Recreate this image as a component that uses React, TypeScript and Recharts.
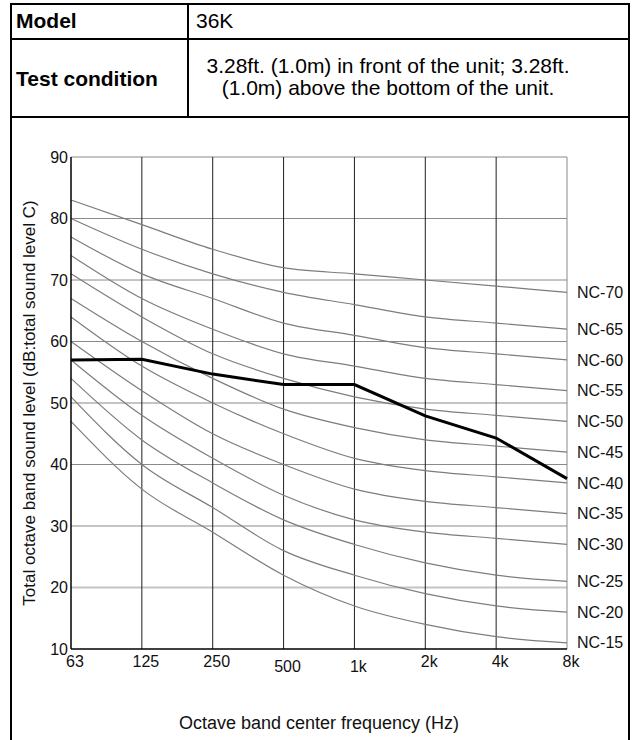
import { LineChart, Line, XAxis, YAxis, ReferenceLine, LabelList } from 'recharts';

const FREQS = ['63', '125', '250', '500', '1k', '2k', '4k', '8k'];
const Y_TICKS = [10, 20, 30, 40, 50, 60, 70, 80, 90];

// NC reference curves, dB per octave band
const NC_15 = [47, 36, 29, 22, 17, 14, 12, 11];
const NC_20 = [51, 40, 33, 26, 22, 19, 17, 16];
const NC_25 = [54, 44, 37, 31, 27, 24, 22, 21];
const NC_30 = [57, 48, 41, 35, 31, 29, 28, 27];
const NC_35 = [60, 52, 45, 40, 36, 34, 33, 32];
const NC_40 = [64, 56, 50, 45, 41, 39, 38, 37];
const NC_45 = [67, 60, 54, 49, 46, 44, 43, 42];
const NC_50 = [71, 64, 58, 54, 51, 49, 48, 47];
const NC_55 = [74, 67, 62, 58, 56, 54, 53, 52];
const NC_60 = [77, 71, 67, 63, 61, 59, 58, 57];
const NC_65 = [80, 75, 71, 68, 66, 64, 63, 62];
const NC_70 = [83, 79, 75, 72, 71, 70, 69, 68];

// measured unit level
const MEASURED = [57, 57.1, 54.7, 53, 53, 47.9, 44.3, 37.7];

const NC_SERIES: [string, number[]][] = [
  ['NC-15', NC_15],
  ['NC-20', NC_20],
  ['NC-25', NC_25],
  ['NC-30', NC_30],
  ['NC-35', NC_35],
  ['NC-40', NC_40],
  ['NC-45', NC_45],
  ['NC-50', NC_50],
  ['NC-55', NC_55],
  ['NC-60', NC_60],
  ['NC-65', NC_65],
  ['NC-70', NC_70],
];

const rows = FREQS.map((freq, i) => {
  const row: Record<string, number | string> = { idx: i, freq, measured: MEASURED[i] };
  NC_SERIES.forEach(([name, vals]) => {
    row[name] = vals[i];
  });
  return row;
});

const FONT = '"Liberation Sans", Arial, Helvetica, sans-serif';
const LIGHT_GRID = [20, 50];
const LAST = FREQS.length - 1;

function FreqTick(props: any) {
  const { x, y, payload } = props;
  const label = FREQS[payload.value];
  const low = label === '500' || label === '1k';
  return (
    <text x={x + 4} y={y + (low ? 5 : 0)} dy="0.71em" textAnchor="middle" fontSize={16} fill="#111" fontFamily={FONT}>
      {label}
    </text>
  );
}

function Rule({ x, y, w, h }: { x: number; y: number; w: number; h: number }) {
  return <div style={{ position: 'absolute', left: x, top: y, width: w, height: h, background: '#000' }} />;
}

export default function App() {
  return (
    <div style={{ position: 'absolute', left: 0, top: 0, width: 632, height: 740, background: '#fff', fontFamily: FONT, color: '#000', overflow: 'hidden' }}>
      <Rule x={10} y={3} w={620} h={2} />
      <Rule x={10} y={38} w={620} h={2} />
      <Rule x={10} y={116} w={620} h={2} />
      <Rule x={10} y={3} w={2} h={740} />
      <Rule x={628} y={3} w={2} h={740} />
      <Rule x={187} y={3} w={2} h={114} />

      <div style={{ position: 'absolute', left: 16, top: 10, fontSize: 21, fontWeight: 'bold', lineHeight: '22px' }}>Model</div>
      <div style={{ position: 'absolute', left: 196, top: 10, fontSize: 21, lineHeight: '22px' }}>36K</div>
      <div style={{ position: 'absolute', left: 16, top: 68, fontSize: 21, fontWeight: 'bold', lineHeight: '22px' }}>Test condition</div>
      <div style={{ position: 'absolute', left: 188, top: 55, width: 400, textAlign: 'center', fontSize: 21, lineHeight: '22px', whiteSpace: 'nowrap' }}>
        3.28ft. (1.0m) in front of the unit; 3.28ft.
        <br />
        (1.0m) above the bottom of the unit.
      </div>

      <div style={{ position: 'absolute', left: 0, top: 0 }}>
        <LineChart width={632} height={740} data={rows} margin={{ top: 157, right: 65, bottom: 0, left: 11 }}>
          <XAxis
            dataKey="idx"
            type="number"
            domain={[0, LAST]}
            ticks={FREQS.map((_, i) => i)}
            tick={<FreqTick />}
            tickLine={false}
            tickSize={0}
            tickMargin={7}
            height={91}
            axisLine={{ stroke: '#000', strokeWidth: 1.5 }}
            label={{ value: 'Octave band center frequency (Hz)', position: 'insideBottom', offset: 11, fontSize: 18, fill: '#111', fontFamily: FONT }}
          />
          <YAxis
            type="number"
            domain={[10, 90]}
            ticks={Y_TICKS}
            width={60}
            tickLine={false}
            tickSize={0}
            tickMargin={3}
            tick={{ fontSize: 16, fill: '#111', fontFamily: FONT }}
            axisLine={{ stroke: '#000', strokeWidth: 1.5 }}
            label={{ value: 'Total octave band sound level (dB:total sound level C)', angle: -90, position: 'insideLeft', offset: 18, textAnchor: 'middle', fontSize: 17, fill: '#111', fontFamily: FONT }}
          />

          {Y_TICKS.slice(1).map((v) => (
            <ReferenceLine
              key={'h' + v}
              y={v}
              stroke={LIGHT_GRID.includes(v) ? '#c4c4c4' : '#8a8a8a'}
              strokeWidth={LIGHT_GRID.includes(v) ? 2 : 1}
            />
          ))}
          {FREQS.slice(1).map((_, k) => (
            <ReferenceLine key={'v' + k} x={k + 1} stroke={k + 1 === LAST ? '#8a8a8a' : '#1e1e1e'} strokeWidth={1} />
          ))}

          {NC_SERIES.map(([name]) => (
            <Line
              key={name}
              dataKey={name}
              type="monotone"
              stroke="#7d7d7d"
              strokeWidth={1.2}
              dot={false}
              activeDot={false}
              isAnimationActive={false}
            >
              <LabelList
                dataKey={name}
                content={(p: any) =>
                  p.index === LAST ? (
                    <text x={p.x + 10} y={p.y} dy="0.35em" fontSize={16} fill="#111" fontFamily={FONT}>
                      {name}
                    </text>
                  ) : null
                }
              />
            </Line>
          ))}

          <Line
            dataKey="measured"
            type="linear"
            stroke="#000"
            strokeWidth={3}
            dot={false}
            activeDot={false}
            isAnimationActive={false}
          />
        </LineChart>
      </div>
    </div>
  );
}
